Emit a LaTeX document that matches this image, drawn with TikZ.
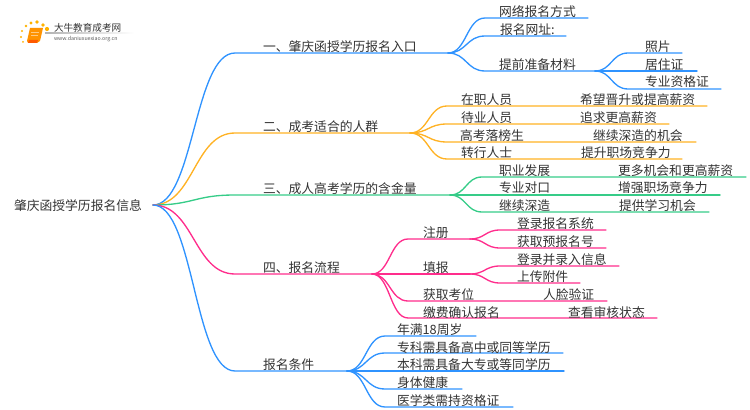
\documentclass[tikz,border=0pt]{standalone}
\usepackage{fontspec}
\setmainfont{Noto Sans CJK SC}
\usetikzlibrary{calc}
\definecolor{cblue}{HTML}{2F93FF}
\definecolor{corange}{HTML}{FFB224}
\definecolor{cgreen}{HTML}{36CC88}
\definecolor{cpink}{HTML}{FF2D8C}
\definecolor{ctext}{HTML}{333333}
\tikzset{
  lab/.style={anchor=west,inner sep=0pt,outer sep=0pt,yshift=-0.75pt,text=ctext,font=\fontsize{9.6pt}{11pt}\selectfont},
  wire/.style={line width=1pt,line cap=round,line join=round},
  hv/.style={to path={let \p1=(\tikztostart),\p2=(\tikztotarget),\n1={(\x2-\x1)/2} in .. controls (\x1+\n1,\y1) and (\x2-\n1,\y2) .. (\tikztotarget)}}
}
\newcommand{\lnk}[4]{\draw[wire,#1] (#2) to[hv] (#3) -- (#4);}
\newcommand{\pt}[2]{\coordinate (#1) at (#2);}
\begin{document}
\begin{tikzpicture}[x=0.75pt,y=-0.75pt]
\useasboundingbox (0,0) rectangle (750,410);
% logo
\shade[left color=black!30,right color=white] (45,32.8) rectangle (134,33.4);
\foreach \a/\b/\r in {22/31/1.2,26/26/1.4,31/23/1.7,37/22/1.8,43/25/1.8,47/29/2.1,21/37/1.1,23/42/1}{
  \fill[orange!60!yellow] (\a,\b) circle (\r);}
\fill[orange!85!yellow] (30,28) -- (43,28) -- (40,41) -- (37,43) -- (28,43) -- (27,41) -- cycle;
\fill[orange!70!red] (29,40) -- (38,40) -- (37,43) -- (28,43) -- cycle;
\fill[white,opacity=.5] (31,32) rectangle (39,33);
\fill[white,opacity=.5] (31,35) rectangle (38,36);
\node[lab,font=\fontsize{7.2pt}{8pt}\selectfont] (logoa) at (54,27) {大牛教育成考网};
\node[lab,font=\fontsize{3.95pt}{5pt}\selectfont,text=black!65] (logob) at (54,38.5) {www.daniuxuexiao.org.cn};
% junctions
\pt{root}{153,205}
\pt{a1}{235,53}\pt{aj}{448,53}
\pt{b1}{235,133}\pt{bj}{410,133}
\pt{c1}{235,195}\pt{cj}{450,195}
\pt{d1}{235,274}\pt{dj}{372,274}
\pt{e1}{235,371}\pt{ej}{347,371}
% branch lines
\draw[wire,cblue] (root) to[hv] (a1) -- (aj);
\draw[wire,corange] (root) to[hv] (b1) -- (bj);
\draw[wire,cgreen] (root) to[hv] (c1) -- (cj);
\draw[wire,cpink] (root) to[hv] (d1) -- (dj);
\draw[wire,cblue] (root) to[hv] (e1) -- (ej);
% branch 1
\pt{a1p}{485,18}\pt{a1e}{588,18}
\pt{a2p}{485,36}\pt{a2e}{566,36}
\pt{a3p}{485,71}\pt{aj3}{595,71}
\lnk{cblue}{aj}{a1p}{a1e}
\lnk{cblue}{aj}{a2p}{a2e}
\lnk{cblue}{aj}{a3p}{aj3}
\pt{g1p}{628,53}\pt{g1e}{682,53}
\pt{g2p}{628,71}\pt{g2e}{697,71}
\pt{g3p}{628,89}\pt{g3e}{721,89}
\lnk{cblue}{aj3}{g1p}{g1e}
\lnk{cblue}{aj3}{g2p}{g2e}
\lnk{cblue}{aj3}{g3p}{g3e}
% branch 2
\pt{b1p}{447,106}\pt{b1e}{707,106}
\pt{b2p}{447,124}\pt{b2e}{669,124}
\pt{b3p}{447,142}\pt{b3e}{696,142}
\pt{b4p}{447,159}\pt{b4e}{682,159}
\lnk{corange}{bj}{b1p}{b1e}
\lnk{corange}{bj}{b2p}{b2e}
\lnk{corange}{bj}{b3p}{b3e}
\lnk{corange}{bj}{b4p}{b4e}
% branch 3
\pt{c1p}{482,177}\pt{c1e}{746,177}
\pt{c2p}{482,195}\pt{c2e}{720,195}
\pt{c3p}{482,212}\pt{c3e}{709,212}
\lnk{cgreen}{cj}{c1p}{c1e}
\lnk{cgreen}{cj}{c2p}{c2e}
\lnk{cgreen}{cj}{c3p}{c3e}
% branch 4
\pt{d1p}{408,239}\pt{dj1}{470,239}
\pt{d2p}{408,274}\pt{dj2}{470,274}
\pt{d3p}{408,301}\pt{d3e}{607,301}
\pt{d4p}{408,318}\pt{d4e}{657,318}
\lnk{cpink}{dj}{d1p}{dj1}
\lnk{cpink}{dj}{d2p}{dj2}
\lnk{cpink}{dj}{d3p}{d3e}
\lnk{cpink}{dj}{d4p}{d4e}
\pt{h1p}{500,230}\pt{h1e}{606,230}
\pt{h2p}{500,248}\pt{h2e}{606,248}
\pt{h3p}{500,266}\pt{h3e}{619,266}
\pt{h4p}{500,283}\pt{h4e}{580,283}
\lnk{cpink}{dj1}{h1p}{h1e}
\lnk{cpink}{dj1}{h2p}{h2e}
\lnk{cpink}{dj2}{h3p}{h3e}
\lnk{cpink}{dj2}{h4p}{h4e}
% branch 5
\pt{e1p}{385,336}\pt{e1e}{476,336}
\pt{e2p}{385,353}\pt{e2e}{563,353}
\pt{e3p}{385,371}\pt{e3e}{564,371}
\pt{e4p}{385,389}\pt{e4e}{462,389}
\pt{e5p}{385,407}\pt{e5e}{513,407}
\lnk{cblue}{ej}{e1p}{e1e}
\lnk{cblue}{ej}{e2p}{e2e}
\lnk{cblue}{ej}{e3p}{e3e}
\lnk{cblue}{ej}{e4p}{e4e}
\lnk{cblue}{ej}{e5p}{e5e}
% texts
\node[lab] (troot) at (14,205) {肇庆函授学历报名信息};
\node[lab] (ta) at (263,46) {一、肇庆函授学历报名入口};
\node[lab] (ta1) at (499,11) {网络报名方式};
\node[lab] (ta2) at (500,29) {报名网址:};
\node[lab] (ta3) at (499,64) {提前准备材料};
\node[lab] (tg1) at (645,46) {照片};
\node[lab] (tg2) at (645,64) {居住证};
\node[lab] (tg3) at (645,81) {专业资格证};
\node[lab] (tb) at (263,126) {二、成考适合的人群};
\node[lab] (tb1) at (461,99) {在职人员};
\node[lab] (tb2) at (461,117) {待业人员};
\node[lab] (tb3) at (460,135) {高考落榜生};
\node[lab] (tb4) at (461,152) {转行人士};
\node[lab] (tb1b) at (580,99) {希望晋升或提高薪资};
\node[lab] (tb2b) at (580,117) {追求更高薪资};
\node[lab] (tb3b) at (593,135) {继续深造的机会};
\node[lab] (tb4b) at (581,152) {提升职场竞争力};
\node[lab] (tc) at (263,188) {三、成人高考学历的含金量};
\node[lab] (tc1) at (499,170) {职业发展};
\node[lab] (tc2) at (499,187) {专业对口};
\node[lab] (tc3) at (499,205) {继续深造};
\node[lab] (tc1b) at (618,170) {更多机会和更高薪资};
\node[lab] (tc2b) at (618,187) {增强职场竞争力};
\node[lab] (tc3b) at (619,205) {提供学习机会};
\node[lab] (td) at (263,267) {四、报名流程};
\node[lab] (td1) at (423,232) {注册};
\node[lab] (td2) at (423,267) {填报};
\node[lab] (td3) at (423,294) {获取考位};
\node[lab] (td4) at (423,312) {缴费确认报名};
\node[lab] (th1) at (517,223) {登录报名系统};
\node[lab] (th2) at (517,241) {获取预报名号};
\node[lab] (th3) at (517,259) {登录并录入信息};
\node[lab] (th4) at (517,276) {上传附件};
\node[lab] (td3b) at (543,294) {人脸验证};
\node[lab] (td4b) at (568,312) {查看审核状态};
\node[lab] (te) at (263,364) {报名条件};
\node[lab] (te1) at (397,329) {年满18周岁};
\node[lab] (te2) at (397,347) {专科需具备高中或同等学历};
\node[lab] (te3) at (397,364) {本科需具备大专或等同学历};
\node[lab] (te4) at (397,382) {身体健康};
\node[lab] (te5) at (397,400) {医学类需持资格证};
\end{tikzpicture}
\end{document}
